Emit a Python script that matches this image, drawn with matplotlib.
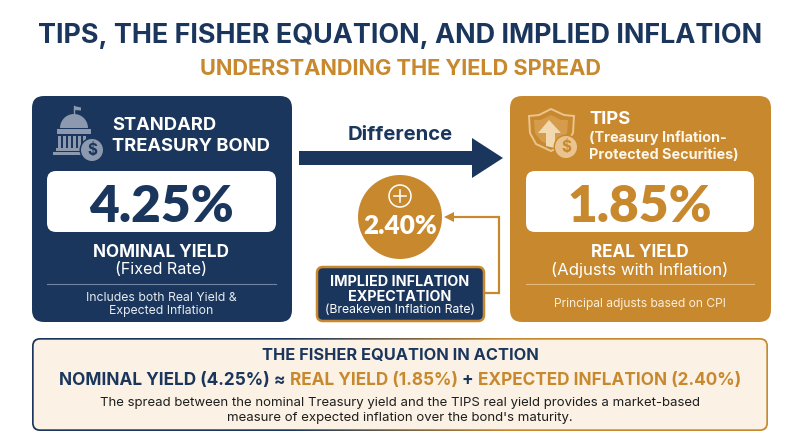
import matplotlib
matplotlib.use('Agg')
import matplotlib.pyplot as plt
import numpy as np
from matplotlib.patches import FancyBboxPatch, Circle, Polygon, Rectangle, Wedge

NAVY = '#1b365d'
GOLD = '#c8892e'
CREAM = '#fbf1e4'
ICON_GRAY = '#8d99ae'
ICON_GOLD = '#eac48f'

nominal_yield = 4.25
real_yield = 1.85
breakeven = 2.40

title_text = 'TIPS, THE FISHER EQUATION, AND IMPLIED INFLATION'
subtitle_text = 'UNDERSTANDING THE YIELD SPREAD'
left_heading = ['STANDARD', 'TREASURY BOND']
left_note = ['Includes both Real Yield &', 'Expected Inflation']
right_heading = ['(Treasury Inflation-', 'Protected Securities)']
spread_note = ['The spread between the nominal Treasury yield and the TIPS real yield provides a market-based',
               "measure of expected inflation over the bond's maturity."]

plt.rcParams['font.family'] = ['Inter', 'DejaVu Sans']

fig = plt.figure(figsize=(8, 4.47), dpi=100)
ax = fig.add_axes([0, 0, 1, 1])
ax.set_axis_off()


def box(x0, y0, x1, y1, r, fc, ec='none', lw=0, z=1):
    p = FancyBboxPatch((x0, y0), x1 - x0, y1 - y0, boxstyle=f'round,pad=0,rounding_size={r}',
                       fc=fc, ec=ec, lw=lw, zorder=z)
    ax.add_patch(p)
    return p


def txt(x, y, s, size, color='white', weight='normal', ha='center', family=None):
    # va=center counts the descender, push down so the caps sit on y
    t = ax.text(x, y + 0.165 * size, s, fontsize=size, color=color, fontweight=weight, ha=ha, va='center', zorder=6)
    if family:
        t.set_family(family)
    return t


# heading
txt(400, 33, title_text, 19.4, NAVY, 'bold')
txt(401, 66, subtitle_text, 15.7, GOLD, 'bold')

# left card
box(32, 96, 292, 322, 12, NAVY)
box(47, 171, 276, 232, 9, 'white', z=2)
txt(161, 201, f'{nominal_yield:.2f}%', 37, NAVY, 'heavy', family='Lato')
txt(112, 123, left_heading[0], 13.2, 'white', 'bold', ha='left')
txt(112, 144, left_heading[1], 13.2, 'white', 'bold', ha='left')
txt(161, 250, 'NOMINAL YIELD', 12.3, 'white', 'bold')
txt(161, 268, '(Fixed Rate)', 11.6, 'white')
ax.plot([47, 276], [284, 284], color='#6f83a3', lw=0.8, zorder=3)
txt(161, 297, left_note[0], 8.8, '#e6eaf0')
txt(161, 310, left_note[1], 8.8, '#e6eaf0')

# capitol icon
ax.add_patch(Wedge((74, 128), 14, 180, 360, fc=ICON_GRAY, zorder=3))
ax.plot([74, 74], [106, 115], color=ICON_GRAY, lw=1, zorder=3)
ax.add_patch(Polygon([(74, 106), (81, 107.5), (81, 110.5), (74, 110)], fc=ICON_GRAY, zorder=3))
ax.add_patch(Rectangle((57, 129), 34, 5, fc=ICON_GRAY, zorder=3))
ax.add_patch(Rectangle((53, 152), 34, 2.5, fc=ICON_GRAY, zorder=3))
ax.add_patch(Rectangle((56, 148), 30, 2.5, fc=ICON_GRAY, zorder=3))
for cx in np.arange(58, 84, 5):
    ax.add_patch(Rectangle((cx, 136), 3, 12, fc=ICON_GRAY, zorder=3))
ax.add_patch(Circle((92, 150), 12.5, fc=NAVY, zorder=4))
ax.add_patch(Circle((92, 150), 11, fc=ICON_GRAY, zorder=4))
txt(92, 149, '$', 11, NAVY, 'bold')

# right card
box(510, 96, 771, 322, 12, GOLD)
box(526, 171, 754, 232, 9, 'white', z=2)
txt(640, 201, f'{real_yield:.2f}%', 37, GOLD, 'heavy', family='Lato')
txt(589, 117, 'TIPS', 13.2, 'white', 'bold', ha='left')
txt(589, 136, right_heading[0], 10.4, '#fdf6ea', 'bold', ha='left')
txt(589, 153, right_heading[1], 10.4, '#fdf6ea', 'bold', ha='left')
txt(640, 250, 'REAL YIELD', 12.3, 'white', 'bold')
txt(640, 268, '(Adjusts with Inflation)', 12.1, 'white')
ax.plot([526, 754], [284, 284], color='#e3b878', lw=0.8, zorder=3)
txt(640, 303, 'Principal adjusts based on CPI', 8.7, '#fbeeda')

# shield icon
shield = [(551, 109), (564, 115), (574, 116), (573, 133), (566, 144), (551, 151),
          (536, 144), (530, 133), (529, 116), (539, 115)]
ax.add_patch(Polygon(shield, fc=GOLD, ec=ICON_GOLD, lw=1.4, zorder=3))
inner = [(551, 115), (561, 120), (568, 120), (567, 133), (561, 141), (551, 146),
         (541, 141), (535, 133), (534, 120), (541, 120)]
ax.add_patch(Polygon(inner, fc='#d69c4e', zorder=3))
ax.add_patch(Polygon([(549, 120), (561, 133), (555, 133), (555, 148), (546, 146), (546, 133), (538, 133)],
                     fc='#f3d9b0', zorder=3))
ax.add_patch(Circle((566, 147), 12.5, fc=GOLD, zorder=4))
ax.add_patch(Circle((566, 147), 11, fc=ICON_GOLD, zorder=4))
txt(566, 146, '$', 11, GOLD, 'bold')

# difference arrow
txt(400, 133, 'Difference', 14.6, NAVY, 'bold')
ax.add_patch(Polygon([(299, 151), (472, 151), (472, 138), (503, 158), (472, 178), (472, 165), (299, 165)],
                     fc=NAVY, zorder=2))

# breakeven circle
ax.add_patch(Circle((400, 217), 42, fc=GOLD, zorder=2))
ax.add_patch(Circle((400, 196), 11, fc='none', ec='white', lw=1.1, zorder=3))
ax.plot([394, 406], [196, 196], color='white', lw=1.1, zorder=3)
ax.plot([400, 400], [190, 202], color='white', lw=1.1, zorder=3)
txt(400, 223, f'{breakeven:.2f}%', 18.8, 'white', 'heavy', family='Lato')

# connector
ax.plot([484, 499, 499, 452], [293, 293, 217, 217], color=GOLD, lw=1.6, zorder=1,
        solid_joinstyle='miter')
ax.add_patch(Polygon([(444, 217), (454, 212), (454, 222)], fc=GOLD, zorder=3))
box(317, 267, 484, 321, 6, NAVY, ec=GOLD, lw=1.8, z=2)
txt(400, 280, 'IMPLIED INFLATION', 10.3, 'white', 'bold')
txt(400, 295, 'EXPECTATION', 10.3, 'white', 'bold')
txt(400, 309, '(Breakeven Inflation Rate)', 8.8, 'white')

# fisher panel, border fades from navy to gold
border = box(32, 338, 768, 431, 8, 'none')
grad = np.zeros((1, 256, 3))
c0 = np.array(matplotlib.colors.to_rgb(NAVY))
c1 = np.array(matplotlib.colors.to_rgb(GOLD))
for i in range(256):
    t = np.clip((i / 255 - 0.35) / 0.3, 0, 1)
    grad[0, i] = c0 + (c1 - c0) * t
im = ax.imshow(grad, extent=(32, 768, 431, 338), aspect='auto', zorder=1)
im.set_clip_path(border)
box(33.7, 339.7, 766.3, 429.3, 6.5, CREAM, z=2)

txt(400, 354, 'THE FISHER EQUATION IN ACTION', 11.8, NAVY, 'bold')
eq_parts = [(f'NOMINAL YIELD ({nominal_yield:.2f}%) \u2248 ', NAVY),
            (f'REAL YIELD ({real_yield:.2f}%) ', GOLD),
            ('+ ', NAVY),
            (f'EXPECTED INFLATION ({breakeven:.2f}%)', GOLD)]

ax.set_xlim(0, 800)
ax.set_ylim(447, 0)

# lay the coloured equation out piece by piece
r = fig.canvas.get_renderer()
eq_size = 12.4
def width_of(s):
    # trailing spaces get dropped in the extent, so measure with a stand-in
    t = ax.text(0, 0, s.replace(' ', '\u00a0'), fontsize=eq_size, fontweight='bold')
    w = t.get_window_extent(r).width
    t.remove()
    return w
widths = [width_of(p[0]) for p in eq_parts]
x = 400 - sum(widths) / 2
for (s, col), w in zip(eq_parts, widths):
    ax.text(x, 378 + 0.165 * eq_size, s.replace(' ', '\u00a0'), fontsize=eq_size, fontweight='bold', color=col,
            ha='left', va='center', zorder=6)
    x += w

txt(400, 401, spread_note[0], 9.5, '#1e1e1e')
txt(400, 416, spread_note[1], 9.5, '#1e1e1e')

fig.savefig('out.png', dpi=100, facecolor='white')
